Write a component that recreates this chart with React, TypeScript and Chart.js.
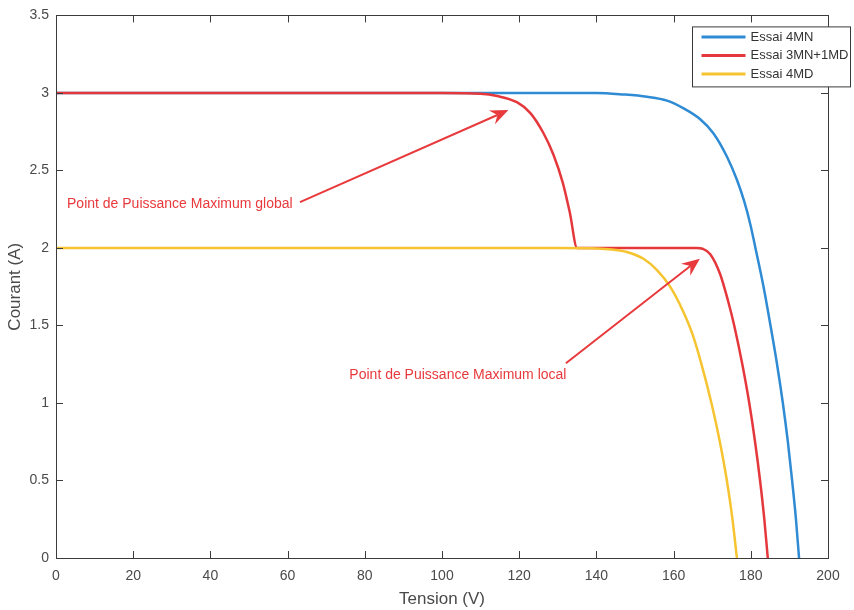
import React, { useEffect, useRef } from 'react';
import { Chart, registerables } from 'chart.js';

Chart.register(...registerables);

// ---- Data ----
const seriesLabels = ['Essai 4MN', 'Essai 3MN+1MD', 'Essai 4MD'];

const v4MN = [0, 120, 140, 147, 153.1, 158.3, 162.6, 166.9, 170.3, 173.8, 176.4, 178.3, 179.9, 181.2, 183.3, 185.1, 186.8, 188.3, 189.6, 190.7, 191.7, 192.5];
const i4MN = [3, 3, 3, 2.99, 2.975, 2.95, 2.9, 2.83, 2.74, 2.59, 2.44, 2.3, 2.15, 2.0, 1.75, 1.5, 1.25, 1.0, 0.75, 0.5, 0.25, 0];

const v3MN1MD = [0, 100, 110, 114.3, 119.4, 122.9, 126.3, 128.9, 131.3, 133.1, 135.0, 150, 166, 167.5, 169.5, 172, 174.2, 175.7, 177.8, 179.6, 181.1, 182.4, 183.5, 184.4];
const i3MN1MD = [3, 3, 2.995, 2.98, 2.94, 2.87, 2.74, 2.6, 2.42, 2.23, 2.0, 2.0, 2.0, 1.995, 1.96, 1.835, 1.65, 1.5, 1.25, 1.0, 0.75, 0.5, 0.25, 0];

const v4MD = [0, 130, 140.2, 144, 147.9, 152.2, 155.7, 159.1, 162.3, 164.8, 167.0, 169.8, 171.9, 173.8, 175.2, 176.4];
const i4MD = [2, 2, 1.997, 1.99, 1.974, 1.93, 1.857, 1.75, 1.6, 1.45, 1.27, 1.0, 0.76, 0.5, 0.26, 0];

const xMin = 0, xMax = 200, xStep = 20;
const yMin = 0, yMax = 3.5, yStep = 0.5;

const annotationTexts = ['Point de Puissance Maximum global', 'Point de Puissance Maximum local'];
const annotationTextAt = [[2.85, 2.28], [76.0, 1.18]];
const arrowFrom = [[63.2, 2.295], [132.1, 1.256]];
const arrowTo = [[117.2, 2.889], [166.8, 1.931]];

// ---- Styles ----
const COLORS = ['#2f8bd3', '#e5383c', '#f6c430'];
const ANN_COLOR = '#e8393c';
const AXIS_COLOR = '#3c3c3c';
const TEXT_COLOR = '#4a4a4a';
const FONT = '"Liberation Sans", Arial, Helvetica, sans-serif';

function toPts(xs: number[], ys: number[]) {
  return xs.map((x, k) => ({ x, y: ys[k] }));
}

function drawArrow(ctx: CanvasRenderingContext2D, x1: number, y1: number, x2: number, y2: number) {
  const dx = x2 - x1, dy = y2 - y1;
  const len = Math.hypot(dx, dy);
  const ux = dx / len, uy = dy / len;
  const nx = -uy, ny = ux;
  const L = 18, W = 7.5, notch = 12;
  ctx.save();
  ctx.strokeStyle = ANN_COLOR;
  ctx.fillStyle = ANN_COLOR;
  ctx.lineWidth = 2;
  ctx.beginPath();
  ctx.moveTo(x1, y1);
  ctx.lineTo(x2 - ux * notch, y2 - uy * notch);
  ctx.stroke();
  ctx.beginPath();
  ctx.moveTo(x2, y2);
  ctx.lineTo(x2 - ux * L + nx * W, y2 - uy * L + ny * W);
  ctx.lineTo(x2 - ux * notch, y2 - uy * notch);
  ctx.lineTo(x2 - ux * L - nx * W, y2 - uy * L - ny * W);
  ctx.closePath();
  ctx.fill();
  ctx.restore();
}

const framePlugin = {
  id: 'matlabFrame',
  afterDatasetsDraw(chart: any) {
    const { ctx, chartArea: a, scales } = chart;
    const xs = scales.x, ys = scales.y;
    ctx.save();
    // box
    ctx.strokeStyle = AXIS_COLOR;
    ctx.lineWidth = 1;
    ctx.strokeRect(Math.round(a.left) + 0.5, Math.round(a.top) + 0.5, Math.round(a.right - a.left), Math.round(a.bottom - a.top));
    // inward ticks
    const tl = 7;
    ctx.beginPath();
    xs.ticks.forEach((t: any) => {
      const px = Math.round(xs.getPixelForValue(t.value)) + 0.5;
      ctx.moveTo(px, a.bottom);
      ctx.lineTo(px, a.bottom - tl);
      ctx.moveTo(px, a.top);
      ctx.lineTo(px, a.top + tl);
    });
    ys.ticks.forEach((t: any) => {
      const py = Math.round(ys.getPixelForValue(t.value)) + 0.5;
      ctx.moveTo(a.left, py);
      ctx.lineTo(a.left + tl, py);
      ctx.moveTo(a.right, py);
      ctx.lineTo(a.right - tl, py);
    });
    ctx.stroke();

    // annotations
    ctx.font = `14px ${FONT}`;
    ctx.fillStyle = ANN_COLOR;
    ctx.textBaseline = 'middle';
    ctx.textAlign = 'left';
    annotationTexts.forEach((txt, k) => {
      const tx = xs.getPixelForValue(annotationTextAt[k][0]);
      const ty = ys.getPixelForValue(annotationTextAt[k][1]);
      ctx.fillText(txt, tx, ty);
      drawArrow(
        ctx,
        xs.getPixelForValue(arrowFrom[k][0]), ys.getPixelForValue(arrowFrom[k][1]),
        xs.getPixelForValue(arrowTo[k][0]), ys.getPixelForValue(arrowTo[k][1])
      );
    });

    // legend
    const lx = a.right - 135.5, ly = a.top + 11.5;
    const lw = 158, lh = 60;
    ctx.fillStyle = '#ffffff';
    ctx.fillRect(lx, ly, lw, lh);
    ctx.strokeStyle = '#3a3a3a';
    ctx.lineWidth = 1;
    ctx.strokeRect(lx, ly, lw, lh);
    ctx.font = `13px ${FONT}`;
    ctx.textBaseline = 'middle';
    seriesLabels.forEach((lab, k) => {
      const ry = ly + 10 + k * 18.5;
      ctx.strokeStyle = COLORS[k];
      ctx.lineWidth = 3;
      ctx.beginPath();
      ctx.moveTo(lx + 9, ry);
      ctx.lineTo(lx + 53, ry);
      ctx.stroke();
      ctx.fillStyle = '#333333';
      ctx.fillText(lab, lx + 58, ry + 0.5);
    });
    ctx.restore();
  },
};

export default function App() {
  const ref = useRef<HTMLCanvasElement | null>(null);

  useEffect(() => {
    if (!ref.current) return;
    Chart.defaults.font.family = FONT;
    const series = [
      { label: seriesLabels[0], data: toPts(v4MN, i4MN), color: COLORS[0], order: 3 },
      { label: seriesLabels[1], data: toPts(v3MN1MD, i3MN1MD), color: COLORS[1], order: 2 },
      { label: seriesLabels[2], data: toPts(v4MD, i4MD), color: COLORS[2], order: 1 },
    ];
    const chart = new Chart(ref.current, {
      type: 'line',
      data: {
        datasets: series.map((s) => ({
          label: s.label,
          data: s.data,
          borderColor: s.color,
          backgroundColor: s.color,
          borderWidth: 2.5,
          pointRadius: 0,
          cubicInterpolationMode: 'monotone' as const,
          fill: false,
          order: s.order,
        })),
      },
      options: {
        responsive: false,
        animation: false,
        events: [],
        layout: { padding: { left: 0, right: 26, top: 12, bottom: 0 } },
        plugins: {
          legend: { display: false },
          tooltip: { enabled: false },
        },
        scales: {
          x: {
            type: 'linear',
            min: xMin,
            max: xMax,
            grid: { display: false, drawTicks: false },
            border: { display: false },
            ticks: { stepSize: xStep, padding: 10, color: TEXT_COLOR, font: { size: 14 }, maxRotation: 0, callback: (v: any) => String(v) },
            title: { display: true, text: 'Tension (V)', color: TEXT_COLOR, font: { size: 17 }, padding: { top: 4, bottom: 0 } },
            afterFit: (s: any) => { s.height = 52; },
          },
          y: {
            type: 'linear',
            min: yMin,
            max: yMax,
            grid: { display: false, drawTicks: false },
            border: { display: false },
            ticks: { stepSize: yStep, padding: 7, color: TEXT_COLOR, font: { size: 14 }, callback: (v: any) => String(v) },
            title: { display: true, text: 'Courant (A)', color: TEXT_COLOR, font: { size: 17 }, padding: { top: 5, bottom: 4 } },
            afterFit: (s: any) => { s.width = 56; },
          },
        },
      },
      plugins: [framePlugin],
    });
    return () => chart.destroy();
  }, []);

  return (
    <div style={{ position: 'absolute', left: 0, top: 0, width: 854, height: 610, background: '#ffffff' }}>
      <canvas ref={ref} width={854} height={610} style={{ display: 'block' }} />
    </div>
  );
}
